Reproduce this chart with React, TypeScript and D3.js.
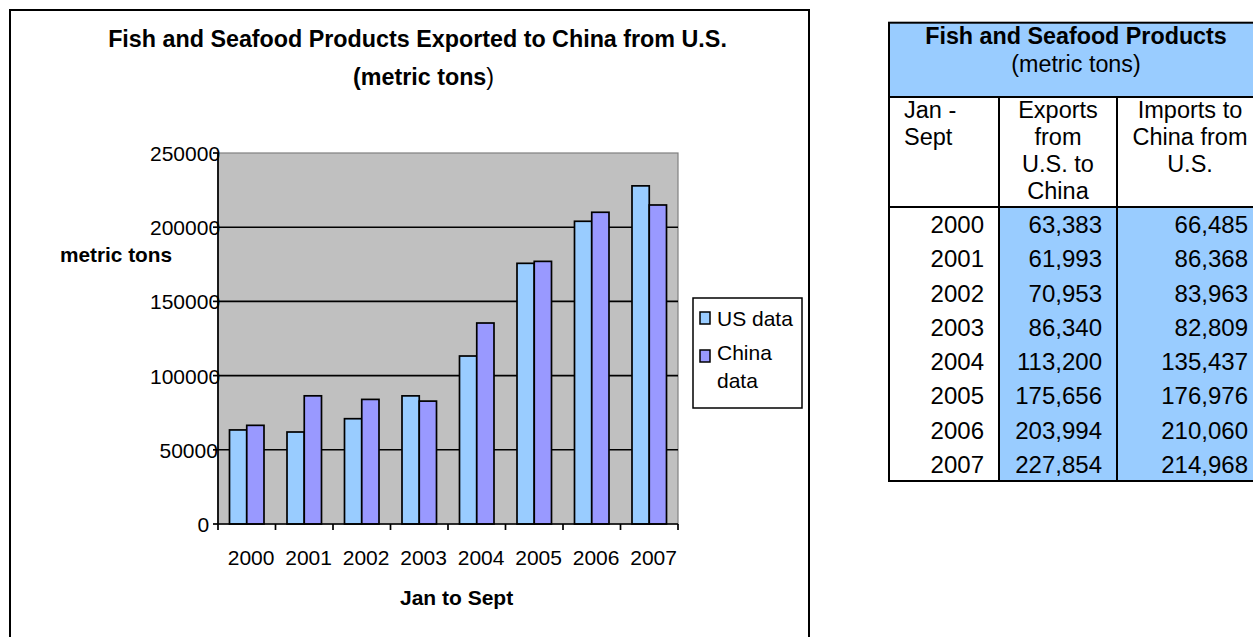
import React from 'react';
import * as d3 from 'd3';

const years = ['2000', '2001', '2002', '2003', '2004', '2005', '2006', '2007'];
const usData = [63383, 61993, 70953, 86340, 113200, 175656, 203994, 227854];
const chinaData = [66485, 86368, 83963, 82809, 135437, 176976, 210060, 214968];
const yTicks = [0, 50000, 100000, 150000, 200000, 250000];
const seriesNames = ['US data', 'China data'];
const seriesColors = ['#99CCFF', '#9999FF'];

const FONT = '"Liberation Sans", Arial, Helvetica, sans-serif';

export default function App() {
  const W = 1253;
  const H = 637;
  // plot area
  const pL = 218, pR = 678, pT = 153, pB = 524;
  const x0 = d3.scaleBand<string>().domain(years).range([pL, pR]).paddingInner(0.4).paddingOuter(0.2);
  const x1 = d3.scaleBand<string>().domain(seriesNames).range([0, x0.bandwidth()]);
  const y = d3.scaleLinear().domain([0, 250000]).range([pB, pT]);
  const step = x0.step();
  const fmt = d3.format(',');
  const series = [usData, chinaData];

  // table geometry
  const tL = 889, tR = 1263, tT = 22.7, h1B = 97, h2B = 207, tB = 481;
  const c1 = 999, c2 = 1117;
  const rowY = d3.scaleBand<string>().domain(years).range([h2B, tB]);

  return (
    <svg width={W} height={H} style={{ position: 'absolute', left: 0, top: 0 }} fontFamily={FONT}>
      <rect x={0} y={0} width={W} height={H} fill="#fff" />
      {/* chart frame */}
      <rect x={10} y={10} width={799} height={700} fill="#fff" stroke="#000" strokeWidth={2} />
      {/* title */}
      <text x={417.5} y={47} textAnchor="middle" fontWeight="bold" fontSize={23.3} fill="#000">
        Fish and Seafood Products Exported to China from U.S.
      </text>
      <text x={353} y={85} textAnchor="start" fontWeight="bold" fontSize={23.3} fill="#000">
        (metric tons<tspan fontWeight="normal">)</tspan>
      </text>
      {/* plot background */}
      <rect x={pL} y={pT} width={pR - pL} height={pB - pT} fill="#C0C0C0" stroke="#808080" strokeWidth={1.2} />
      {/* gridlines */}
      {yTicks.filter((t) => t > 0 && t < 250000).map((t) => (
        <line key={t} x1={pL} x2={pR} y1={y(t)} y2={y(t)} stroke="#000" strokeWidth={1.6} />
      ))}
      {/* bars */}
      {years.map((yr, i) => (
        <g key={yr}>
          {series.map((s, j) => (
            <rect
              key={j}
              x={(x0(yr) as number) + (x1(seriesNames[j]) as number)}
              y={y(s[i])}
              width={x1.bandwidth()}
              height={pB - y(s[i])}
              fill={seriesColors[j]}
              stroke="#000"
              strokeWidth={1.7}
            />
          ))}
        </g>
      ))}
      {/* y axis */}
      <line x1={pL} x2={pL} y1={pT} y2={pB} stroke="#000" strokeWidth={1.7} />
      {yTicks.map((t) => (
        <g key={t}>
          <line x1={pL - 5} x2={pL} y1={y(t)} y2={y(t)} stroke="#000" strokeWidth={1.7} />
          <text x={207 - String(t).length * 9.5} y={y(t) + 8} fontSize={21} fill="#000">
            {String(t)}
          </text>
        </g>
      ))}
      {/* x axis */}
      <line x1={pL} x2={pR} y1={pB} y2={pB} stroke="#000" strokeWidth={1.7} />
      {d3.range(years.length + 1).map((k) => (
        <line key={k} x1={pL + k * step} x2={pL + k * step} y1={pB} y2={pB + 6} stroke="#000" strokeWidth={1.7} />
      ))}
      {years.map((yr) => {
        const c = (x0(yr) as number) + x0.bandwidth() / 2;
        return (
          <text key={yr} x={c - yr.length * 4.75} y={565} fontSize={21} fill="#000">
            {yr}
          </text>
        );
      })}
      {/* axis titles */}
      <text x={60} y={262} fontWeight="bold" fontSize={20.8} fill="#000">metric tons</text>
      <text x={400} y={605} fontWeight="bold" fontSize={21} fill="#000">Jan to Sept</text>
      {/* legend */}
      <rect x={693} y={298} width={109} height={110} fill="#fff" stroke="#000" strokeWidth={1.5} />
      <rect x={700} y={312} width={10} height={12} fill={seriesColors[0]} stroke="#000" strokeWidth={1.5} />
      <text x={717} y={326} fontSize={21} fill="#000">US data</text>
      <rect x={700} y={350} width={10} height={12} fill={seriesColors[1]} stroke="#000" strokeWidth={1.5} />
      <text x={717} y={360} fontSize={21} fill="#000">China</text>
      <text x={717} y={388} fontSize={21} fill="#000">data</text>

      {/* table */}
      <rect x={tL} y={tT} width={tR - tL} height={h1B - tT} fill="#99CCFF" />
      <rect x={c1} y={h2B} width={tR - c1} height={tB - h2B} fill="#99CCFF" />
      <text x={(tL + tR) / 2} y={44.3} textAnchor="middle" fontWeight="bold" fontSize={23.3} fill="#000">
        Fish and Seafood Products
      </text>
      <text x={(tL + tR) / 2} y={71.7} textAnchor="middle" fontSize={23.3} fill="#000">(metric tons)</text>
      {['Jan -', 'Sept'].map((s, k) => (
        <text key={s} x={904} y={118.3 + k * 27} fontSize={23.5} fill="#000">{s}</text>
      ))}
      {['Exports', 'from', 'U.S. to', 'China'].map((s, k) => (
        <text key={s} x={(c1 + c2) / 2} y={118.3 + k * 27} textAnchor="middle" fontSize={23.5} fill="#000">{s}</text>
      ))}
      {['Imports to', 'China from', 'U.S.'].map((s, k) => (
        <text key={s} x={(c2 + tR) / 2} y={118.3 + k * 27} textAnchor="middle" fontSize={23.5} fill="#000">{s}</text>
      ))}
      {years.map((yr, i) => {
        const cy = (rowY(yr) as number) + rowY.bandwidth() / 2 + 9;
        return (
          <g key={yr}>
            <text x={984} y={cy} textAnchor="end" fontSize={24} fill="#000">{yr}</text>
            <text x={1102} y={cy} textAnchor="end" fontSize={24} fill="#000">{fmt(usData[i])}</text>
            <text x={1248} y={cy} textAnchor="end" fontSize={24} fill="#000">{fmt(chinaData[i])}</text>
          </g>
        );
      })}
      <rect x={tL} y={tT} width={tR - tL} height={tB - tT} fill="none" stroke="#000" strokeWidth={2} />
      <line x1={tL} x2={tR} y1={h1B} y2={h1B} stroke="#000" strokeWidth={2} />
      <line x1={tL} x2={tR} y1={h2B} y2={h2B} stroke="#000" strokeWidth={2} />
      <line x1={c1} x2={c1} y1={h1B} y2={tB} stroke="#000" strokeWidth={2} />
      <line x1={c2} x2={c2} y1={h1B} y2={tB} stroke="#000" strokeWidth={2} />
    </svg>
  );
}
